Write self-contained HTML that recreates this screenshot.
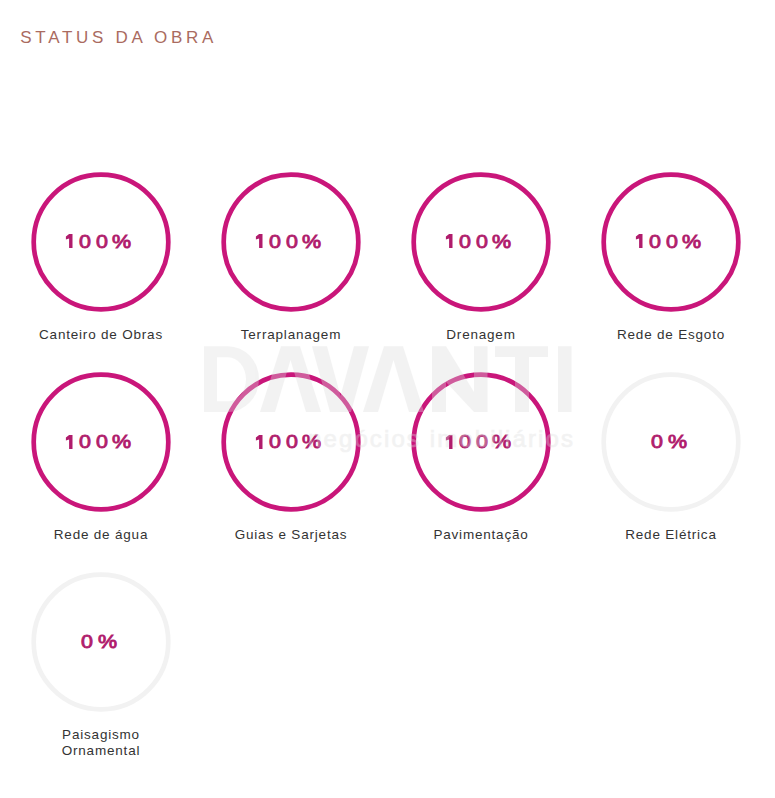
<!DOCTYPE html>
<html><head><meta charset="utf-8">
<style>
html,body{margin:0;padding:0;background:#fff;width:775px;height:798px;overflow:hidden;position:relative}
body{font-family:"Liberation Sans",sans-serif}
.title{position:absolute;left:20.3px;top:28px;font-size:17px;letter-spacing:3.7px;color:#aa6b60;white-space:nowrap;line-height:20px}
.item{position:absolute;width:190px;text-align:center}
.ring{position:absolute;left:0;top:-0.5px;width:190px;height:141px;overflow:visible}
.ring circle{fill:none;stroke:#c9167a;stroke-width:4.7}
.ring.off circle{stroke:#f2f2f2}
.pct{position:absolute;left:0;top:0;width:190px;height:100px}
.pct span{position:absolute;top:58.8px;font-size:18.5px;line-height:22px;color:#b01c6c;-webkit-text-stroke:0.85px #b01c6c;transform:scaleX(1.16);transform-origin:0 0;white-space:pre}
.one{position:absolute;left:59.1px;top:62.2px;fill:#b01c6c;overflow:visible}
.lbl{position:absolute;left:0;width:190px;top:155px;font-size:13.5px;letter-spacing:0.8px;color:#333;line-height:16px}
.r2 .pct{top:0.7px}
.wm{position:absolute;left:0;top:0;width:775px;height:798px;pointer-events:none}
</style></head><body>
<div class="title">STATUS DA OBRA</div>

<div class="item" style="left:6px;top:172px"><svg class="ring"><circle cx="95" cy="70" r="67.3"/></svg><div class="pct"><svg class="one" width="8" height="14" viewBox="0 0 8 14"><path d="M4.1,0 H7.5 V14 H4.1 V4.5 L0.9,5.5 V2.4 Z"/></svg><span style="left:72.6px">0</span><span style="left:90px">0</span><span style="left:106.4px">%</span></div><div class="lbl">Canteiro de Obras</div></div>
<div class="item" style="left:196px;top:172px"><svg class="ring"><circle cx="95" cy="70" r="67.3"/></svg><div class="pct"><svg class="one" width="8" height="14" viewBox="0 0 8 14"><path d="M4.1,0 H7.5 V14 H4.1 V4.5 L0.9,5.5 V2.4 Z"/></svg><span style="left:72.6px">0</span><span style="left:90px">0</span><span style="left:106.4px">%</span></div><div class="lbl">Terraplanagem</div></div>
<div class="item" style="left:386px;top:172px"><svg class="ring"><circle cx="95" cy="70" r="67.3"/></svg><div class="pct"><svg class="one" width="8" height="14" viewBox="0 0 8 14"><path d="M4.1,0 H7.5 V14 H4.1 V4.5 L0.9,5.5 V2.4 Z"/></svg><span style="left:72.6px">0</span><span style="left:90px">0</span><span style="left:106.4px">%</span></div><div class="lbl">Drenagem</div></div>
<div class="item" style="left:576px;top:172px"><svg class="ring"><circle cx="95" cy="70" r="67.3"/></svg><div class="pct"><svg class="one" width="8" height="14" viewBox="0 0 8 14"><path d="M4.1,0 H7.5 V14 H4.1 V4.5 L0.9,5.5 V2.4 Z"/></svg><span style="left:72.6px">0</span><span style="left:90px">0</span><span style="left:106.4px">%</span></div><div class="lbl">Rede de Esgoto</div></div>

<div class="item r2" style="left:6px;top:372px"><svg class="ring"><circle cx="95" cy="70" r="67.3"/></svg><div class="pct"><svg class="one" width="8" height="14" viewBox="0 0 8 14"><path d="M4.1,0 H7.5 V14 H4.1 V4.5 L0.9,5.5 V2.4 Z"/></svg><span style="left:72.6px">0</span><span style="left:90px">0</span><span style="left:106.4px">%</span></div><div class="lbl">Rede de água</div></div>
<div class="item r2" style="left:196px;top:372px"><svg class="ring"><circle cx="95" cy="70" r="67.3"/></svg><div class="pct"><svg class="one" width="8" height="14" viewBox="0 0 8 14"><path d="M4.1,0 H7.5 V14 H4.1 V4.5 L0.9,5.5 V2.4 Z"/></svg><span style="left:72.6px">0</span><span style="left:90px">0</span><span style="left:106.4px">%</span></div><div class="lbl">Guias e Sarjetas</div></div>
<div class="item r2" style="left:386px;top:372px"><svg class="ring"><circle cx="95" cy="70" r="67.3"/></svg><div class="pct"><svg class="one" width="8" height="14" viewBox="0 0 8 14"><path d="M4.1,0 H7.5 V14 H4.1 V4.5 L0.9,5.5 V2.4 Z"/></svg><span style="left:72.6px">0</span><span style="left:90px">0</span><span style="left:106.4px">%</span></div><div class="lbl">Pavimentação</div></div>
<div class="item r2" style="left:576px;top:372px"><svg class="ring off"><circle cx="95" cy="70" r="67.3"/></svg><div class="pct"><span style="left:74.8px">0</span><span style="left:91.7px">%</span></div><div class="lbl">Rede Elétrica</div></div>

<div class="item r2" style="left:6px;top:572px"><svg class="ring off"><circle cx="95" cy="70" r="67.3"/></svg><div class="pct"><span style="left:74.8px">0</span><span style="left:91.7px">%</span></div><div class="lbl">Paisagismo<br>Ornamental</div></div>


<svg class="wm" width="775" height="798" viewBox="0 0 775 798">
<g fill="#dcdcdc" fill-rule="evenodd" opacity="0.35">
<path d="M204,346.2 H228 A31,32.9 0 0 1 228,412 H204 Z M217,357.3 H228 A18,22 0 0 1 228,401.3 H217 Z"/>
<path d="M260,412 H275 L290.5,360 L306,412 H321 L300,346.2 H281 Z"/>
<path d="M312,346.2 H327 L340.5,396 L354,346.2 H369 L351,412 H330 Z"/>
<path d="M363,412 H378 L393.5,360 L409,412 H424 L403,346.2 H384 Z"/>
<path d="M432,412 V346.2 H446 L474,392 V346.2 H487.5 V412 H474 L446,382 V412 Z"/>
<path d="M495,346.2 H548 V357 H529 V412 H515 V357 H495 Z"/>
<path d="M558,346.2 H571.5 V412 H558 Z"/>
<text x="308" y="446.8" font-family="Liberation Sans" font-size="24" textLength="265" lengthAdjust="spacing" stroke="#dcdcdc" stroke-width="0.7">negócios imobiliários</text>
</g>
</svg>
</body></html>
